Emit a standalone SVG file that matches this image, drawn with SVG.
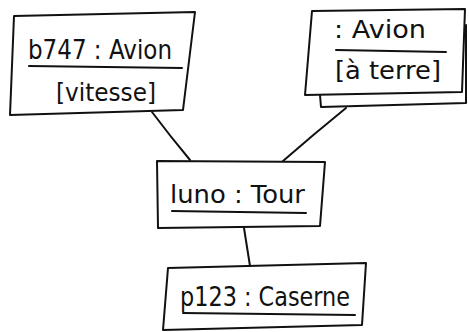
<svg xmlns="http://www.w3.org/2000/svg" width="469" height="332" viewBox="0 0 469 332">
<style>
.s{fill:none;stroke:#111;stroke-width:2;stroke-linecap:round;stroke-linejoin:round}
.t{font-family:"DejaVu Sans","Liberation Sans",sans-serif;fill:#111;font-weight:normal}
</style>
<rect width="469" height="332" fill="#fff"/>
<g id="connectors" class="s">
<path d="M152 112 Q170 136 190 160"/>
<path d="M346 108 Q314 134 283 161"/>
<path d="M244 228 L250 266"/>
</g>
<g id="b747">
<path class="s" d="M14 16 L195 12 L183 110 L10 115 Z"/>
<path class="s" d="M29 66 L182 68"/>
<text class="t" x="28" y="59" font-size="26" textLength="144" lengthAdjust="spacingAndGlyphs">b747 : Avion</text>
<text class="t" x="56" y="101" font-size="25" textLength="100" lengthAdjust="spacingAndGlyphs">[vitesse]</text>
</g>
<g id="avion">
<path class="s" d="M312 11 L465 9 L462 92 L305 95 Z"/>
<path class="s" d="M320 95 L321 107 L466 103 L466 25"/>
<path class="s" d="M336 50 L446 52"/>
<text class="t" x="334" y="38" font-size="25" textLength="92" lengthAdjust="spacingAndGlyphs">: Avion</text>
<text class="t" x="335" y="79" font-size="25" textLength="106" lengthAdjust="spacingAndGlyphs">[à terre]</text>
</g>
<g id="luno">
<path class="s" d="M157 161 L325 162 L320 226 L158 228 Z"/>
<path class="s" d="M172 211 L306 213"/>
<text class="t" x="170" y="203" font-size="25" textLength="135" lengthAdjust="spacingAndGlyphs">luno : Tour</text>
</g>
<g id="p123">
<path class="s" d="M168 268 L366 263 L362 325 L163 330 Z"/>
<path class="s" d="M183 313 L355 315"/>
<text class="t" x="180" y="306" font-size="27" textLength="170" lengthAdjust="spacingAndGlyphs">p123 : Caserne</text>
</g>
</svg>
